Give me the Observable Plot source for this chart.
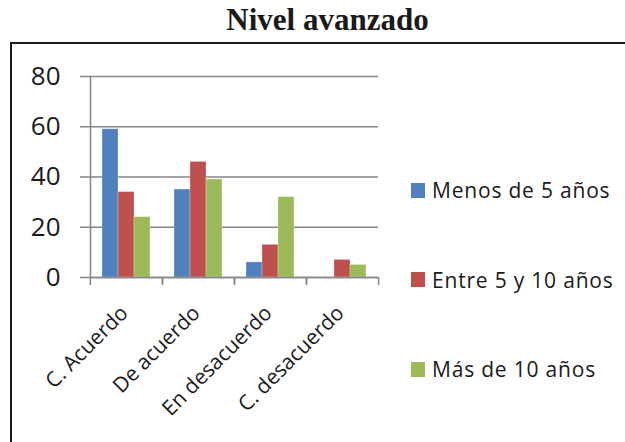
<!DOCTYPE html>
<html>
<head>
<meta charset="utf-8">
<script src="https://cdn.jsdelivr.net/npm/d3@7"></script>
<script src="https://cdn.jsdelivr.net/npm/@observablehq/plot@0.6"></script>
<style>
  html, body { margin: 0; padding: 0; background: #fff; overflow: hidden; }
  #wrap { position: relative; width: 625px; height: 442px; overflow: hidden; background: #fff; }
  #title { position: absolute; left: 0; top: 2px; width: 655px; text-align: center;
           font-family: "Liberation Serif", serif; font-weight: bold; font-size: 31px; line-height: 36px; color: #1a1a1a; }
  #box { position: absolute; left: 10px; top: 42px; width: 700px; height: 500px; border: 2px solid #1a1a1a; }
  #chart { position: absolute; left: 0; top: 0; }
  #legend { position: absolute; left: 0; top: 0; font-family: "Open Sans", sans-serif; font-size: 21px; letter-spacing: 0.8px; color: #1a1a1a; }
  .item { position: absolute; display: flex; align-items: center; white-space: nowrap; }
  .sw { width: 14px; height: 15px; margin-right: 7px; }
</style>
</head>
<body>
<div id="wrap">
  <div id="box"></div>
  <div id="title">Nivel avanzado</div>
  <div id="chart"></div>
  <div id="legend"></div>
</div>
<script>
const categories = ["C. Acuerdo", "De acuerdo", "En desacuerdo", "C. desacuerdo"];
const seriesNames = ["Menos de 5 años", "Entre 5 y 10 años", "Más de 10 años"];
const menos5 = [59, 35, 6, 0];
const entre5y10 = [34, 46, 13, 7];
const mas10 = [24, 39, 32, 5];
const colors = ["#4F81BD", "#C0504D", "#9BBB59"];
const yTicks = [0, 20, 40, 60, 80];

const seriesValues = [menos5, entre5y10, mas10];
const rows = categories.flatMap((c, i) =>
  seriesValues.map((arr, j) => ({category: c, series: seriesNames[j], value: arr[i]})));

const W = 625, H = 442, mL = 89, mR = 247, mT = 76, mB = 165;
const half = (W - mL - mR) / categories.length / 2;
const gray = "#868686";

const chart = Plot.plot({
  width: W, height: H,
  marginTop: mT, marginBottom: mB, marginLeft: mL, marginRight: mR,
  style: {fontFamily: "'Open Sans', sans-serif", fontSize: "21px", color: "#1a1a1a", background: "transparent"},
  fx: {domain: categories, padding: 0, label: null, axis: null},
  x: {domain: seriesNames, paddingInner: 0, paddingOuter: 0.75, axis: null},
  y: {domain: [0, 80], label: null},
  color: {domain: seriesNames, range: colors},
  marks: [
    Plot.gridY(yTicks, {stroke: gray, strokeOpacity: 1, strokeWidth: 1.5}),
    Plot.axisY(yTicks, {tickSize: 10, tickPadding: 20, stroke: gray, strokeWidth: 1.5, fontSize: 26, fill: "#1a1a1a", label: null}),
    Plot.frame({anchor: "left", facetAnchor: "left", stroke: gray, strokeWidth: 1.5}),
    Plot.axisFx({anchor: "bottom", tickSize: 8, dx: -half, tickFormat: () => "", stroke: gray, strokeWidth: 1.5, label: null}),
    Plot.axisFx([categories[categories.length - 1]], {anchor: "bottom", tickSize: 8, dx: half, tickFormat: () => "", stroke: gray, strokeWidth: 1.5, label: null}),
    Plot.axisFx({anchor: "bottom", tickSize: 0, tickRotate: -45, tickPadding: 32, dx: -2, fontSize: 21, fill: "#1a1a1a", label: null, style: "letter-spacing:0.8px"}),
    Plot.barY(rows, {fx: "category", x: "series", y: "value", fill: "series", stroke: "#ffffff", strokeOpacity: 0.35, strokeWidth: 0.75}),
    Plot.ruleY([0], {stroke: gray, strokeWidth: 1.5})
  ]
});
document.getElementById("chart").appendChild(chart);

const legend = d3.select("#legend");
seriesNames.forEach((name, i) => {
  const item = legend.append("div").attr("class", "item")
    .style("left", "411px").style("top", (176 + i * 89.5) + "px");
  item.append("div").attr("class", "sw").style("background", colors[i]);
  item.append("span").text(name);
});
</script>
</body>
</html>
